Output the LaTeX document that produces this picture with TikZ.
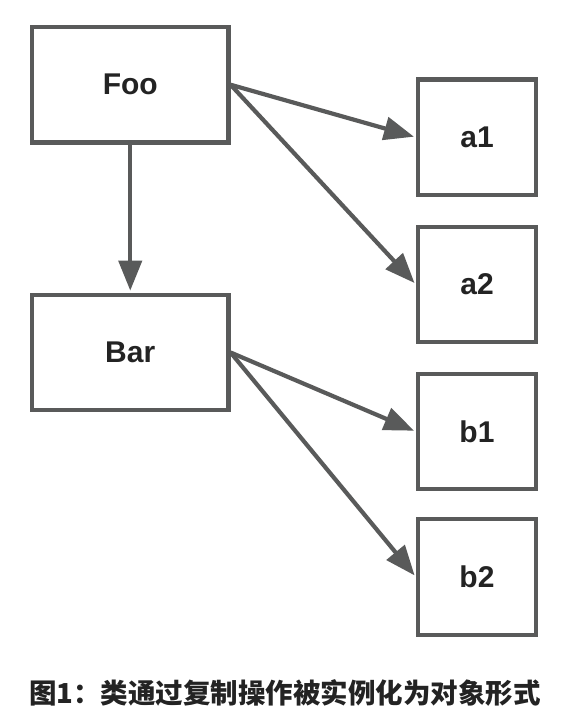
\documentclass[tikz,border=0pt]{standalone}
\usepackage{fontspec}
\setmainfont{Liberation Sans}
\newfontfamily\cjk{Noto Sans CJK SC}
\usetikzlibrary{arrows.meta}
\definecolor{edge}{HTML}{595A5A}
\definecolor{ink}{HTML}{232323}
\begin{document}
\begin{tikzpicture}[x=1pt,y=-1pt,
  box/.style={draw=edge,line width=4.2pt,inner sep=0pt,text=ink,
    font=\fontsize{30}{30}\selectfont\bfseries},
  conn/.style={draw=edge,line width=4.2pt,-{Triangle[length=30pt,width=23pt]},shorten >=2pt}]
\useasboundingbox (0,0) rectangle (572,726);
\node[box,minimum width=196.5pt,minimum height=115.5pt] (foo) at (130.25,84.75) {Foo};
\node[box,minimum width=196.5pt,minimum height=115.5pt] (bar) at (130.25,352.5) {Bar};
\node[box,minimum width=118pt,minimum height=115.5pt] (a1) at (477,137.25) {a1};
\node[box,minimum width=118pt,minimum height=115.5pt] (a2) at (477,284.5) {a2};
\node[box,minimum width=118pt,minimum height=115.5pt] (b1) at (477,431.5) {b1};
\node[box,minimum width=118pt,minimum height=115.5pt] (b2) at (477,577) {b2};
\draw[conn] (foo.east) -- (a1.west);
\draw[conn] (foo.east) -- (a2.west);
\draw[conn] (foo.south) -- (bar.north);
\draw[conn] (bar.east) -- (b1.west);
\draw[conn] (bar.east) -- (b2.west);
\node[text=ink,font=\cjk\bfseries\fontsize{27.5}{27.5}\selectfont,inner sep=0pt,anchor=west] (cap) at (29,693) {图1：类通过复制操作被实例化为对象形式};
\end{tikzpicture}
\end{document}
